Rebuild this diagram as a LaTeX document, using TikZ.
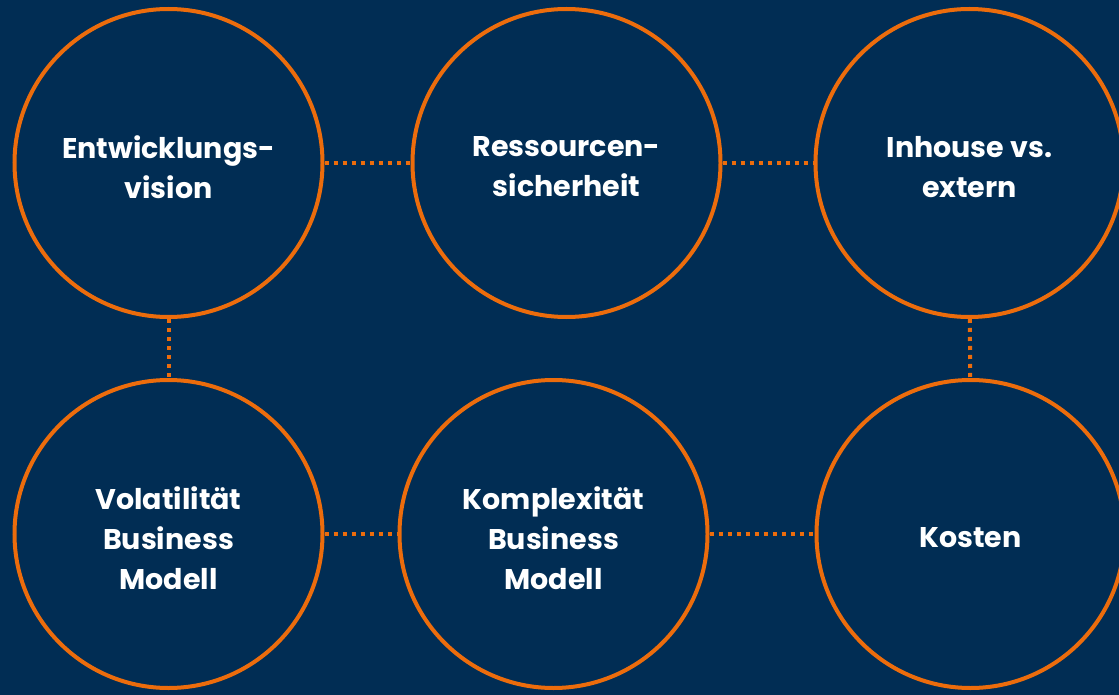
\documentclass[tikz,border=0pt]{standalone}
\usepackage{fontspec}
\setmainfont{Poppins}
\usepackage{tikz}
\usetikzlibrary{positioning}
\definecolor{navy}{RGB}{1,45,84}
\definecolor{accent}{RGB}{236,108,12}
\tikzset{topic-line/.style={draw=accent, line width=4pt, dash pattern=on 4pt off 5pt}}
\tikzset{topic-node/.style={draw=accent, line width=4pt, circle, minimum size=308pt, inner sep=0}}
\tikzset{topic-text/.style={text=white, font=\bfseries\fontsize{28.5}{40}\selectfont, align=center, inner sep=0, yshift=-4pt}}

\begin{document}
\begin{tikzpicture}[x=1pt, y=-1pt]
            \fill[navy] (0,0) rectangle (1119,695);
            \useasboundingbox (0,0) rectangle (1119,695);

            \node[topic-node, label={[topic-text]center:Entwicklungs-\\vision}] (vision) at (168.5,163) {};
            \node[topic-node, right=86pt of vision, label={[topic-text]center:Ressourcen-\\sicherheit}] (ressourcen) {};
            \node[topic-node, right=91pt of ressourcen, label={[topic-text]center:Inhouse vs.\\extern}] (inhouse) {};

            \node[topic-node, below=59pt of vision, label={[topic-text]center:Volatilität\\Business\\Modell}] (volatil) {};
            \node[topic-node, right=73pt of volatil, label={[topic-text]center:Komplexität\\Business\\Modell}] (komplex) {};
            \node[topic-node, right=105pt of komplex, label={[topic-text]center:Kosten}] (kosten) {};

            \draw[topic-line] (vision) -- (ressourcen);
            \draw[topic-line] (ressourcen) -- (inhouse);
            \draw[topic-line] (vision) -- (volatil);
            \draw[topic-line] (inhouse) -- (kosten);
            \draw[topic-line] (volatil) -- (komplex);
            \draw[topic-line] (komplex) -- (kosten);
        \end{tikzpicture}
\end{document}
